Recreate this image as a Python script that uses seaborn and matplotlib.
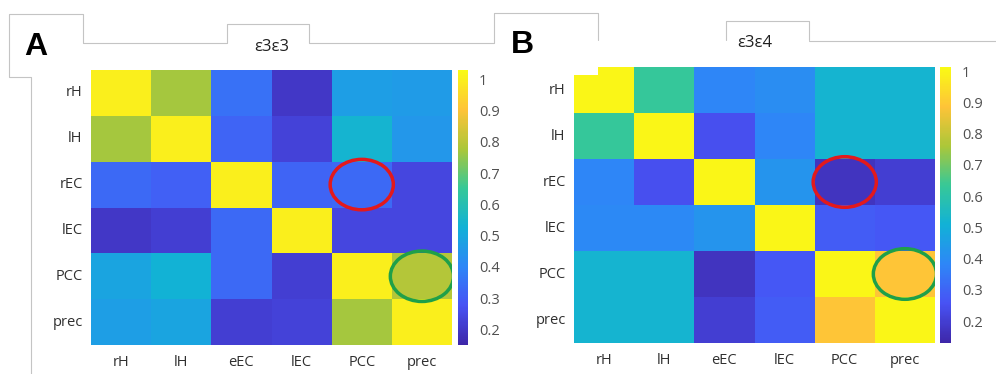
import numpy as np
import pandas as pd
import matplotlib
matplotlib.use("Agg")
import matplotlib.pyplot as plt
from matplotlib.colors import LinearSegmentedColormap
from matplotlib.patches import Ellipse, Rectangle
from matplotlib.lines import Line2D
import seaborn as sns

sns.set_theme(style="white")
plt.rcParams['font.family'] = ['Open Sans', 'DejaVu Sans']

row_labels = ["rH", "lH", "rEC", "lEC", "PCC", "prec"]
col_labels = ["rH", "lH", "eEC", "lEC", "PCC", "prec"]
cbar_ticks = [0.2, 0.3, 0.4, 0.5, 0.6, 0.7, 0.8, 0.9, 1.0]
cbar_ticklabels = ["0.2", "0.3", "0.4", "0.5", "0.6", "0.7", "0.8", "0.9", "1"]

title_a = "ε3ε3"
values_a = [
    [1.00, 0.77, 0.35, 0.20, 0.47, 0.46],
    [0.77, 1.00, 0.32, 0.23, 0.54, 0.45],
    [0.33, 0.31, 1.00, 0.32, 0.33, 0.24],
    [0.20, 0.22, 0.33, 1.00, 0.24, 0.24],
    [0.49, 0.53, 0.33, 0.22, 1.00, 0.79],
    [0.47, 0.49, 0.22, 0.23, 0.77, 1.00],
]

title_b = "ε3ε4"
values_b = [
    [1.00, 0.63, 0.38, 0.40, 0.52, 0.52],
    [0.63, 1.00, 0.25, 0.38, 0.52, 0.52],
    [0.38, 0.25, 1.00, 0.42, 0.17, 0.20],
    [0.39, 0.39, 0.42, 1.00, 0.28, 0.27],
    [0.52, 0.52, 0.17, 0.27, 1.00, 0.89],
    [0.52, 0.52, 0.20, 0.28, 0.89, 1.00],
]

parula = LinearSegmentedColormap.from_list("parula", [
    (0.2422, 0.1504, 0.6603),
    (0.2810, 0.3228, 0.9579),
    (0.1786, 0.5289, 0.9682),
    (0.0689, 0.6948, 0.8394),
    (0.2161, 0.7843, 0.5923),
    (0.6720, 0.7793, 0.2227),
    (0.9970, 0.7659, 0.2199),
    (0.9769, 0.9839, 0.0805),
])

W, H = 996, 374
fig = plt.figure(figsize=(W / 100, H / 100), dpi=100)
fig.patch.set_facecolor("white")

def fx(px):
    return px / W

def fy(py):
    return 1 - py / H

def panel(values, title, hm_box, cb_box, vmin, vmax, red_cell, green_cell, title_y):
    x0, y0, x1, y1 = hm_box
    ax = fig.add_axes([fx(x0), fy(y1), fx(x1 - x0), (y1 - y0) / H])
    c0, _, c1, _ = cb_box
    cax = fig.add_axes([fx(c0), fy(y1), fx(c1 - c0), (y1 - y0) / H])
    df = pd.DataFrame(values, index=row_labels, columns=col_labels)
    sns.heatmap(df, ax=ax, cmap=parula, vmin=vmin, vmax=vmax, cbar_ax=cax,
                square=False, linewidths=0)
    ax.tick_params(axis="both", which="both", direction="in", length=3,
                   color="#707070", labelsize=10.5, labelcolor="#303030",
                   top=True, right=True, left=True, bottom=True)
    ax.tick_params(axis="x", pad=7)
    ax.tick_params(axis="y", pad=6)
    ax.set_xticklabels(col_labels, rotation=0)
    ax.set_yticklabels(row_labels, rotation=0)
    ax.set_xlabel("")
    ax.set_ylabel("")
    for s in ax.spines.values():
        s.set_visible(False)
    cax.set_yticks(cbar_ticks)
    cax.set_yticklabels(cbar_ticklabels)
    cax.tick_params(axis="y", direction="in", length=2, color="#808080",
                    labelsize=10.5, labelcolor="#505050", pad=8)
    for s in cax.spines.values():
        s.set_visible(False)
    r, c = red_cell
    ax.add_patch(Ellipse((c + 0.5, r + 0.5), 1.05, 1.1, fill=False,
                         edgecolor="#e3191c", linewidth=2.5))
    r, c = green_cell
    ax.add_patch(Ellipse((c + 0.5, r + 0.5), 1.05, 1.1, fill=False,
                         edgecolor="#1fa049", linewidth=2.5))
    fig.text(fx((x0 + x1) / 2), fy(title_y), title, ha="center", va="center",
             fontsize=12, color="#202020")
    return ax

panel(values_a, title_a, (91, 70, 452, 345), (458, 70, 468, 345),
      0.15, 1.03, (2, 4), (4, 5), 47)
panel(values_b, title_b, (574, 67, 935, 343), (940, 67, 951, 343),
      0.13, 1.013, (2, 4), (4, 5), 43)

gray = "#c4c4c4"
def poly(pts):
    xs = [fx(p[0]) for p in pts]
    ys = [fy(p[1]) for p in pts]
    fig.add_artist(Line2D(xs, ys, color=gray, lw=0.8))

poly([(31, 374), (31, 77), (9, 77), (9, 14), (83, 14), (83, 43), (227, 43),
      (227, 24), (309, 24), (309, 43), (494, 43), (494, 13), (598, 13), (598, 40)])
poly([(726, 40), (726, 21), (809, 21), (809, 40)])
poly([(809, 41), (996, 41)])

fig.add_artist(Rectangle((fx(573), fy(75)), fx(25), 8 / H, transform=fig.transFigure,
                         facecolor="white", edgecolor="none"))

fig.text(fx(24), fy(47), "A", fontsize=23, fontweight="bold", ha="left", va="center",
         family=["Liberation Sans", "DejaVu Sans"], color="black")
fig.text(fx(511), fy(45), "B", fontsize=23, fontweight="bold", ha="left", va="center",
         family=["Liberation Sans", "DejaVu Sans"], color="black")

fig.savefig("out.png", dpi=100, facecolor="white")
